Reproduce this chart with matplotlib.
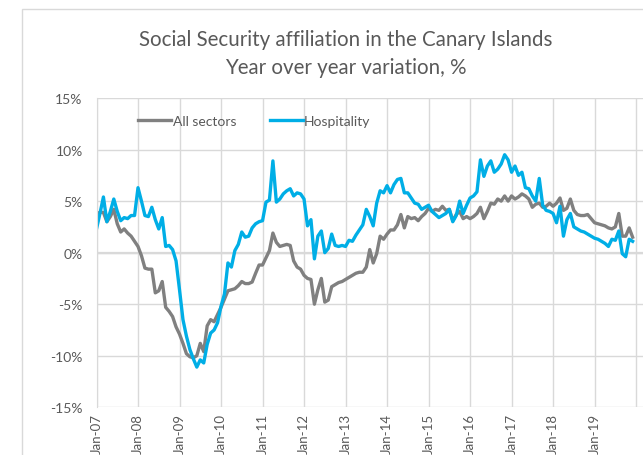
import matplotlib
matplotlib.use('Agg')
import matplotlib.pyplot as plt
import numpy as np
from matplotlib.patches import Rectangle

# monthly y/y variation (%), Jan-07 .. Dec-19
all_sectors = [3.8, 3.9, 3.9, 3.0, 3.5, 4.2, 2.8, 2.0, 2.3, 1.9, 1.6, 1.1,
               0.6, -0.3, -1.5, -1.6, -1.6, -3.9, -3.7, -2.8, -5.3, -5.7, -6.2, -7.2,
               -7.9, -8.8, -9.8, -10.1, -10.2, -10.0, -8.8, -9.6, -7.1, -6.5, -6.7, -6.0,
               -5.3, -4.5, -3.7, -3.6, -3.5, -3.2, -2.8, -3.0, -3.0, -2.85, -2.0, -1.2,
               -1.2, -0.5, 0.2, 1.9, 1.0, 0.6, 0.7, 0.8, 0.7, -0.8, -1.4, -1.6,
               -2.2, -2.5, -2.6, -5.0, -3.6, -2.5, -4.8, -4.6, -3.3, -3.1, -2.9, -2.8,
               -2.6, -2.4, -2.2, -2.0, -1.9, -1.9, -1.4, 0.3, -1.0, -0.1, 1.6, 1.3,
               1.8, 2.2, 2.2, 2.7, 3.7, 2.4, 3.5, 3.3, 3.4, 3.1, 3.5, 3.8,
               4.3, 4.0, 4.2, 4.1, 4.5, 4.1, 4.2, 3.1, 3.7, 4.0, 3.3, 3.5,
               3.3, 3.5, 3.8, 4.4, 3.3, 4.0, 4.8, 4.7, 5.2, 5.0, 5.5, 5.0,
               5.5, 5.2, 5.4, 5.7, 5.5, 5.2, 4.4, 4.7, 4.8, 4.4, 4.5, 4.8,
               4.5, 4.8, 5.3, 4.1, 4.3, 5.2, 4.1, 3.7, 3.6, 3.6, 3.7, 3.3,
               2.9, 2.8, 2.7, 2.6, 2.4, 2.3, 2.5, 3.8, 1.6, 1.6, 2.4, 1.5]

hospitality = [2.3, 3.8, 5.4, 3.0, 4.0, 5.2, 4.0, 3.1, 3.4, 3.3, 3.6, 3.6,
               6.3, 5.0, 3.6, 3.5, 4.4, 3.2, 2.3, 3.4, 0.6, 0.7, 0.3, -0.8,
               -3.6, -6.5, -8.1, -9.4, -10.3, -11.1, -10.4, -10.7, -8.9, -7.8, -7.5, -6.8,
               -5.2, -4.0, -1.0, -1.4, 0.2, 0.8, 2.0, 1.5, 1.6, 2.4, 2.8, 3.0,
               3.1, 4.9, 5.1, 8.9, 4.9, 5.2, 5.7, 6.0, 6.2, 5.5, 5.8, 5.7,
               5.2, 2.6, 3.2, -0.6, 1.6, 2.1, 0.0, 0.4, 1.8, 0.7, 0.6, 0.7,
               0.6, 1.2, 1.1, 1.7, 2.2, 2.7, 4.2, 3.5, 2.6, 4.8, 6.0, 5.8,
               6.5, 5.8, 6.6, 7.1, 7.2, 5.8, 5.8, 5.3, 4.8, 4.7, 4.2, 4.4,
               4.6, 4.0, 3.7, 3.4, 3.6, 3.8, 4.2, 3.0, 3.6, 5.0, 3.8, 4.6,
               5.3, 5.5, 5.9, 9.0, 7.4, 8.4, 8.9, 7.8, 8.1, 8.6, 9.5, 9.0,
               7.8, 8.4, 7.5, 7.8, 6.3, 6.2, 5.5, 5.0, 7.2, 4.6, 4.1, 4.0,
               3.8, 2.9, 4.5, 1.6, 3.2, 3.8, 2.5, 2.3, 2.1, 2.0, 1.8, 1.6,
               1.4, 1.3, 1.1, 0.9, 0.6, 1.3, 1.2, 2.1, -0.1, -0.4, 1.3, 1.1]

years = ['07', '08', '09', '10', '11', '12', '13', '14', '15', '16', '17', '18', '19']
tick_labels = ['Jan-' + y for y in years] + ['']

plt.rcParams['font.family'] = ['Lato', 'DejaVu Sans']
txt = '#595959'
grid_c = '#d9d9d9'

fig = plt.figure(figsize=(6.43, 4.56), dpi=100)
fig.patches.append(Rectangle((22 / 643, -0.1), 2, 1.1 - 10 / 456, transform=fig.transFigure,
                             fill=False, edgecolor=grid_c, linewidth=1))

ax = fig.add_axes([96.5 / 643, 1 - 408.3 / 456, 1 - 96.5 / 643, (408.3 - 99) / 456])
x = np.arange(len(all_sectors))
ax.plot(x, all_sectors, color='#808080', lw=2.4, label='All sectors', solid_joinstyle='round')
ax.plot(x, hospitality, color='#00AEE6', lw=2.4, label='Hospitality', solid_joinstyle='round')

ax.set_xlim(0, 158)
ax.set_ylim(-15, 15)
ax.set_yticks(np.arange(-15, 16, 5))
ax.set_yticklabels([f'{v}%' for v in range(-15, 16, 5)])
ax.set_xticks(np.arange(0, 157, 12))
ax.set_xticklabels(tick_labels, rotation=90)
ax.grid(True, color=grid_c, lw=1)
ax.set_axisbelow(True)
ax.axhline(0, color=grid_c, lw=1.6, zorder=0.5)
for s in ['top', 'right', 'bottom']:
    ax.spines[s].set_visible(False)
ax.spines['left'].set_color(grid_c)
ax.tick_params(axis='both', length=0, colors=txt, labelsize=10)
ax.tick_params(axis='y', pad=10)
ax.tick_params(axis='x', pad=4, labelsize=9.5)

fig.text(346 / 643, 1 - 40 / 456, 'Social Security affiliation in the Canary Islands',
         ha='center', va='center', fontsize=14.8, color=txt)
fig.text(346 / 643, 1 - 68 / 456, 'Year over year variation, %',
         ha='center', va='center', fontsize=14.8, color=txt)

ax.legend(loc='upper left', bbox_to_anchor=(0.053, 0.985), ncol=2, frameon=False,
          fontsize=10, labelcolor=txt, handlelength=2.4, handletextpad=0.1,
          columnspacing=2.4)

fig.savefig('out.png', dpi=100)
